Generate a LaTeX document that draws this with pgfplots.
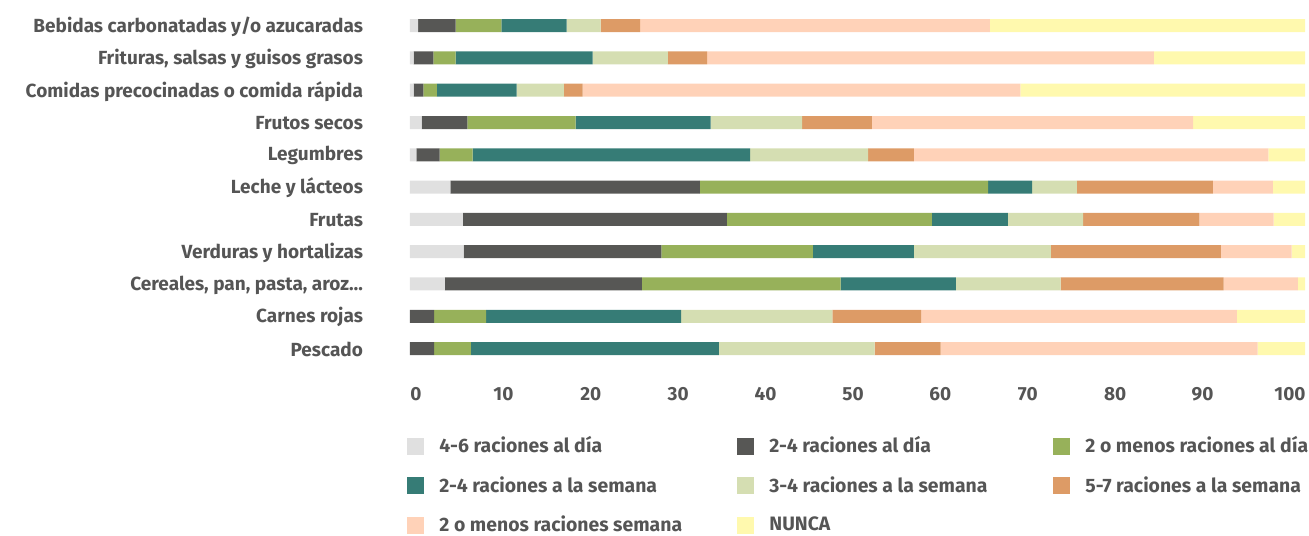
\documentclass[border=0pt]{standalone}
\usepackage{fontspec}
\setmainfont{Fira Sans}
\usepackage{pgfplots}
\usepackage{pgfplotstable}
\pgfplotsset{compat=1.18}

\definecolor{txt}{HTML}{555555}
\definecolor{c1}{HTML}{E0E0E0}
\definecolor{c2}{HTML}{575755}
\definecolor{c3}{HTML}{97B15A}
\definecolor{c4}{HTML}{367C76}
\definecolor{c5}{HTML}{D5DEB2}
\definecolor{c6}{HTML}{DD9B66}
\definecolor{c7}{HTML}{FFD2B8}
\definecolor{c8}{HTML}{FFF9AE}

% y=0 is the bottom row (Pescado)
\pgfplotstableread{
y  a   b    c    d    e    f    g    h
0  0   2.7  4.1  27.7 17.4 7.4  35.4 5.3
1  0   2.7  5.8  21.8 16.9 9.9  35.3 7.6
2  3.9 22.0 22.2 12.9 11.7 18.2 8.3  0.8
3  6.0 22.1 16.9 11.3 15.3 19.0 7.9  1.5
4  5.9 29.5 22.9 8.5  8.4  13.0 8.3  3.5
5  4.5 27.9 32.2 4.9  5.0  15.2 6.7  3.6
6  0.7 2.6  3.7  31.0 13.2 5.1  39.6 4.1
7  1.3 5.1  12.1 15.1 10.2 7.8  35.9 12.5
8  0.4 1.1  1.5  8.9  5.3  2.1  48.9 31.8
9  0.4 2.2  2.5  15.3 8.4  4.4  49.9 16.9
10 0.9 4.2  5.1  7.3  3.8  4.4  39.1 35.2
}\datos

\newcommand{\lbl}{\fontsize{9.5}{11}\selectfont\bfseries}
\newcommand{\leg}{\fontsize{9.7}{11}\selectfont\bfseries}
% legend entries: gap after the marker, fixed column width
\newcommand{\ent}[2]{\hspace{5.5pt}\makebox[#1][l]{#2}}

\begin{document}
\begin{tikzpicture}
\useasboundingbox (-205pt,-85.2pt) rectangle (449.5pt,182.35pt);
\begin{axis}[
  at={(0,0)}, anchor=south west,
  scale only axis, width=447.5pt, height=177.6pt,
  xbar stacked, bar width=6.5pt,
  xmin=0, xmax=100, ymin=-0.5, ymax=10.5,
  clip=false,
  axis line style={draw=none}, tick style={draw=none},
  ytick={0,...,10},
  yticklabels={Pescado, Carnes rojas, {Cereales, pan, pasta, aroz…},
    Verduras y hortalizas, Frutas, Leche y lácteos, Legumbres,
    Frutos secos, Comidas precocinadas o comida rápida,
    {Frituras, salsas y guisos grasos}, Bebidas carbonatadas y/o azucaradas},
  xtick={0.67,10.44,20.2,29.97,39.73,49.5,59.26,69.03,78.79,88.56,98.32},
  xticklabels={0,10,20,30,40,50,60,70,80,90,100},
  tick label style={font=\lbl, text=txt},
  y tick label style={xshift=-20pt, yshift=-0.5pt},
  x tick label style={yshift=-7.7pt},
  every axis plot/.append style={draw=none},
  legend columns=3,
  legend cell align=left,
  legend image code/.code={\fill[#1] (0pt,-4.25pt) rectangle (8.5pt,4.25pt);},
  legend style={draw=none, fill=none, at={(0,0)}, anchor=north west,
    yshift=-33.8pt, xshift=-1.5pt, font=\leg, text=txt, inner sep=0pt,
    row sep=6.3pt},
]
\addplot[fill=c1] table[x=a, y=y] {\datos};
\addplot[fill=c2] table[x=b, y=y] {\datos};
\addplot[fill=c3] table[x=c, y=y] {\datos};
\addplot[fill=c4] table[x=d, y=y] {\datos};
\addplot[fill=c5] table[x=e, y=y] {\datos};
\addplot[fill=c6] table[x=f, y=y] {\datos};
\addplot[fill=c7] table[x=g, y=y] {\datos};
\addplot[fill=c8] table[x=h, y=y] {\datos};
\addlegendentry{\ent{147pt}{4-6 raciones al día}}
\addlegendentry{\ent{140pt}{2-4 raciones al día}}
\addlegendentry{\hspace{5.5pt}2 o menos raciones al día}
\addlegendentry{\ent{147pt}{2-4 raciones a la semana}}
\addlegendentry{\ent{140pt}{3-4 raciones a la semana}}
\addlegendentry{\hspace{5.5pt}5-7 raciones a la semana}
\addlegendentry{\ent{147pt}{2 o menos raciones semana}}
\addlegendentry{\ent{140pt}{NUNCA}}
\end{axis}
\end{tikzpicture}
\end{document}
